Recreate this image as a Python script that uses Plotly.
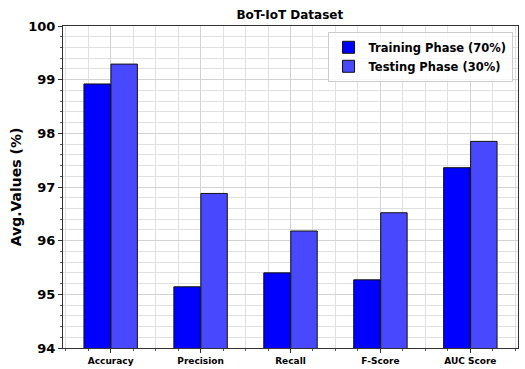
import plotly.graph_objects as go

categories = ["Accuracy", "Precision", "Recall", "F-Score", "AUC Score"]
train_vals = [98.92, 95.14, 95.40, 95.27, 97.36]
test_vals = [99.29, 96.88, 96.18, 96.52, 97.85]
series_names = ["Training Phase (70%)", "Testing Phase (30%)"]
y_ticks = [94, 95, 96, 97, 98, 99, 100]

xpos = list(range(len(categories)))
FONT = "DejaVu Sans"

fig = go.Figure()
fig.add_bar(x=xpos, y=train_vals, name=f"<b>{series_names[0]}</b>",
            marker=dict(color="#0000FF", line=dict(color="#111111", width=1)))
fig.add_bar(x=xpos, y=test_vals, name=f"<b>{series_names[1]}</b>",
            marker=dict(color="#4848FF", line=dict(color="#111111", width=1)))

minor_x = [i * 0.25 - 0.5 for i in range(21)]

fig.update_layout(
    width=525, height=369,
    margin=dict(l=63, r=7, t=26, b=21),
    barmode="group", bargap=0.4, bargroupgap=0.02,
    plot_bgcolor="white", paper_bgcolor="white",
    font=dict(family=FONT, color="black"),
    title=dict(text="<b>BoT-IoT Dataset</b>", x=0.552, xanchor="center",
               y=0.96, yanchor="middle", font=dict(size=12, family=FONT),
               automargin=False),
    legend=dict(x=0.988, y=0.982, xanchor="right", yanchor="top",
                bordercolor="#cccccc", borderwidth=1, bgcolor="rgba(255,255,255,0.8)",
                font=dict(size=11.5, family=FONT), itemwidth=30, tracegroupgap=0),
    showlegend=True,
)
fig.update_xaxes(
    automargin=False,
    range=[-0.53, 4.53], tickmode="array", tickvals=xpos,
    ticktext=[f"<b>{c}</b>" for c in categories],
    tickfont=dict(size=9, family=FONT),
    showgrid=True, gridcolor="#d3d3d3", gridwidth=1,
    ticks="outside", ticklen=4, tickcolor="#333333",
    showline=True, linecolor="#333333", linewidth=1, mirror=True,
    minor=dict(tickvals=minor_x, showgrid=True, gridcolor="#e0e0e0", gridwidth=1,
               ticks="outside", ticklen=2, tickcolor="#555555"),
    zeroline=False,
)
fig.update_yaxes(
    automargin=False,
    range=[94, 100], tickmode="array", tickvals=y_ticks,
    ticktext=[f"<b>{t}</b>" for t in y_ticks],
    tickfont=dict(size=13, family=FONT),
    title=dict(text="<b>Avg.Values (%)</b>", font=dict(size=14, family=FONT), standoff=3),
    showgrid=True, gridcolor="#d3d3d3", gridwidth=1,
    ticks="outside", ticklen=4, tickcolor="#333333",
    showline=True, linecolor="#333333", linewidth=1, mirror=True,
    minor=dict(dtick=0.2, showgrid=True, gridcolor="#e0e0e0", gridwidth=1,
               ticks="outside", ticklen=2, tickcolor="#555555"),
    zeroline=False,
)

fig.write_html("out.html", config={"displayModeBar": False},
               post_script="document.body.style.margin='0';document.body.style.overflow='hidden';")
